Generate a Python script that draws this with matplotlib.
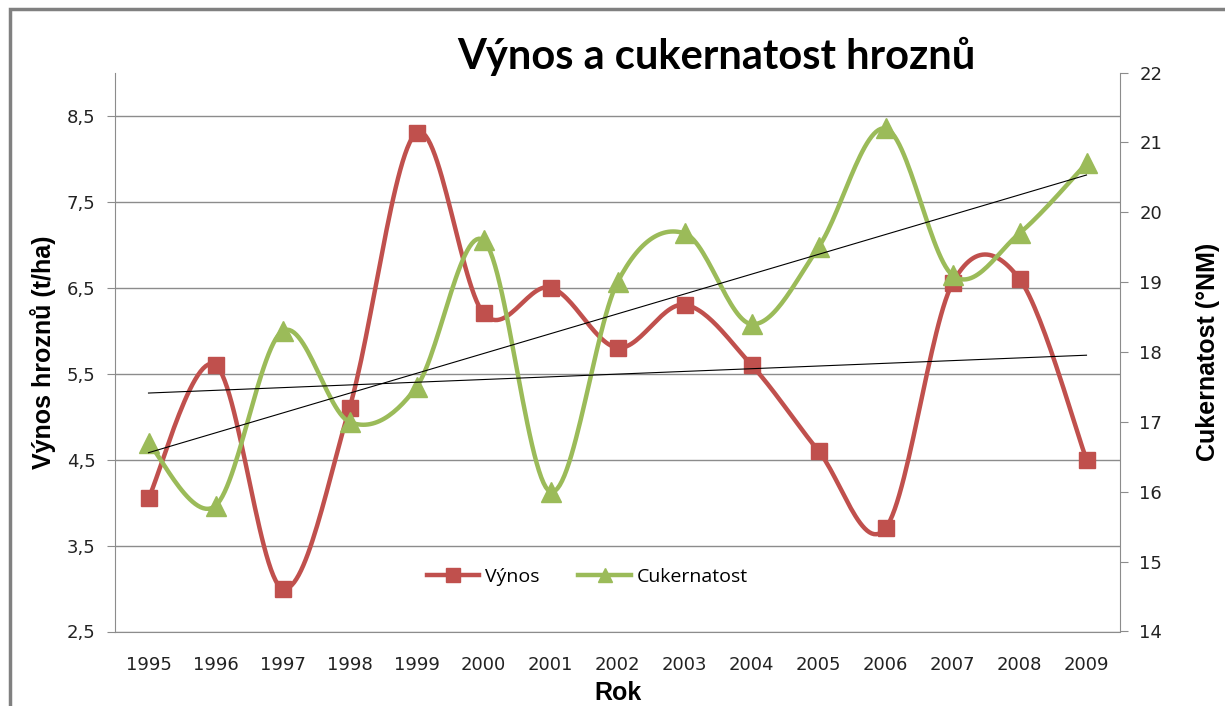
import numpy as np
import matplotlib
matplotlib.use("Agg")
import matplotlib.pyplot as plt
from matplotlib.lines import Line2D
from matplotlib.patches import Rectangle

# Data
years = ["1995", "1996", "1997", "1998", "1999", "2000", "2001", "2002",
         "2003", "2004", "2005", "2006", "2007", "2008", "2009"]
vynos = [4.05, 5.6, 3.0, 5.1, 8.3, 6.2, 6.5, 5.8, 6.3, 5.6, 4.6, 3.7, 6.55, 6.6, 4.5]
cukernatost = [16.7, 15.8, 18.3, 17.0, 17.5, 19.6, 16.0, 19.0, 19.7, 18.4,
               19.5, 21.2, 19.1, 19.7, 20.7]

left_ticks = [2.5, 3.5, 4.5, 5.5, 6.5, 7.5, 8.5]
right_ticks = [14, 15, 16, 17, 18, 19, 20, 21, 22]

RED = "#C0504D"
GREEN = "#9BBB59"
GRID = "#8c8c8c"


# Excel-like smoothed line (cubic Bezier through the points)
def smooth(xs, ys, n=30):
    xs = np.asarray(xs, float)
    ys = np.asarray(ys, float)
    px = np.concatenate([[xs[0]], xs, [xs[-1]]])
    py = np.concatenate([[ys[0]], ys, [ys[-1]]])
    out_x, out_y = [], []
    t = np.linspace(0, 1, n)
    for i in range(1, len(px) - 2):
        p0x, p0y = px[i], py[i]
        p3x, p3y = px[i + 1], py[i + 1]
        c1x = p0x + (px[i + 1] - px[i - 1]) / 6
        c1y = p0y + (py[i + 1] - py[i - 1]) / 6
        c2x = p3x - (px[i + 2] - px[i]) / 6
        c2y = p3y - (py[i + 2] - py[i]) / 6
        bx = (1-t)**3*p0x + 3*(1-t)**2*t*c1x + 3*(1-t)*t**2*c2x + t**3*p3x
        by = (1-t)**3*p0y + 3*(1-t)**2*t*c1y + 3*(1-t)*t**2*c2y + t**3*p3y
        out_x.extend(bx)
        out_y.extend(by)
    return np.array(out_x), np.array(out_y)


fig = plt.figure(figsize=(12.25, 7.06), dpi=100)
ax = fig.add_axes([115/1225, 1 - 631.5/706, (1120-115)/1225, (631.5-72.6)/706])
ax2 = ax.twinx()

x = np.arange(len(years))

# outer chart border
fig.patches.append(Rectangle((10/1225, -0.05), 1.1, 1.05 - 9/706,
                             transform=fig.transFigure, fill=False,
                             edgecolor="#808080", linewidth=2.5))

# left axis: Výnos
sx, sy = smooth(x, vynos)
ax.plot(sx, sy, color=RED, linewidth=3.2, solid_capstyle="round", zorder=3)
ax.plot(x, vynos, linestyle="none", marker="s", markersize=12,
        color=RED, zorder=4)

# right axis: Cukernatost
sx2, sy2 = smooth(x, cukernatost)
ax2.plot(sx2, sy2, color=GREEN, linewidth=3.2, solid_capstyle="round", zorder=3)
ax2.plot(x, cukernatost, linestyle="none", marker="^", markersize=14,
         color=GREEN, zorder=4)

# linear trendlines
k1 = np.polyfit(x, vynos, 1)
k2 = np.polyfit(x, cukernatost, 1)
ax2.plot(x[[0, -1]], np.polyval(k1, x[[0, -1]]), color="black",
         linewidth=0.8, transform=ax.transData, zorder=6)
ax2.plot(x[[0, -1]], np.polyval(k2, x[[0, -1]]), color="black",
         linewidth=0.8, zorder=6)

ax.set_xlim(-0.5, len(years) - 0.5)
ax.set_ylim(2.5, 9.0)
ax2.set_ylim(14, 22)

ax.set_yticks(left_ticks)
ax.set_yticklabels([f"{v:.1f}".replace(".", ",") for v in left_ticks])
ax2.set_yticks(right_ticks)
ax.set_xticks(x)
ax.set_xticklabels(years)

ax.grid(axis="y", color=GRID, linewidth=1)
ax.set_axisbelow(True)

for a in (ax, ax2):
    a.spines["top"].set_visible(False)
    for s in ("left", "right", "bottom"):
        a.spines[s].set_color(GRID)
ax.spines["right"].set_visible(False)
ax2.spines["left"].set_visible(False)
ax2.spines["bottom"].set_visible(False)

ax.tick_params(axis="y", direction="out", length=6, color=GRID, pad=8,
               labelsize=13, labelcolor="#222222")
ax.tick_params(axis="x", length=0, pad=18, labelsize=13, labelcolor="#222222")
ax2.tick_params(axis="y", direction="out", length=6, color=GRID, pad=8,
                labelsize=13, labelcolor="#222222")

lab = dict(fontsize=18, fontweight="bold", family="Liberation Sans")
ax.set_ylabel("Výnos hroznů (t/ha)", labelpad=8, **lab)
ax2.set_ylabel("Cukernatost (°NM)", labelpad=24, **lab)
ax.set_xlabel("Rok", labelpad=5, **lab)

fig.text(0.585, 1 - 56/706, "Výnos a cukernatost hroznů", ha="center",
         va="center", fontsize=30, fontweight="bold", family="Lato")

handles = [
    Line2D([], [], color=RED, linewidth=3.2, marker="s", markersize=10),
    Line2D([], [], color=GREEN, linewidth=3.2, marker="^", markersize=10),
]
ax2.legend(handles, ["Výnos", "Cukernatost"], loc="center",
           bbox_to_anchor=(0.47, 0.0975), ncol=2, frameon=False,
           prop={"family": "Open Sans", "size": 14}, handlelength=2.7,
           columnspacing=2.0, handletextpad=0.3)

fig.savefig("out.png", dpi=100)
